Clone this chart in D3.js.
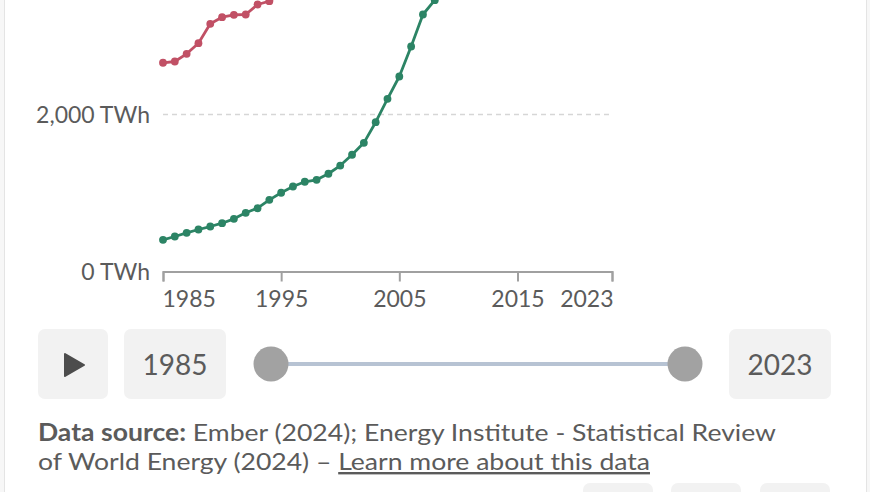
<!DOCTYPE html>
<html>
<head>
<meta charset="utf-8">
<script src="https://cdn.jsdelivr.net/npm/d3@7"></script>
<style>
  html, body { margin: 0; padding: 0; background: #f7f7f7; }
  svg { display: block; font-family: Lato, "Open Sans", sans-serif; }
</style>
</head>
<body>
<svg id="chart" width="870" height="492"></svg>
<script>
// ---- data ----
const years = d3.range(1985, 2024);
const seriesNames = ["United States", "China"];
const usValues = [2659,2675,2773,2908,3155,3240,3270,3274,3401,3443,
                  3545,3663,3720,3853,3883,4000,3826,4016,4050,4125,
                  4268,4275,4323,4310,4119,4326,4289,4207,4247,4297,
                  4273,4257,4226,4405,4328,4216,4347,4441,4326];
const chinaValues = [404,446,493,535,573,615,671,748,806,913,
                     1003,1083,1143,1168,1245,1350,1487,1639,1902,2200,
                     2484,2866,3274,3457,3715,4207,4713,4987,5432,5650,
                     5815,6133,6604,7166,7503,7779,8534,8849,9456];
const yTicks = [0, 2000, 4000, 6000, 8000, 10000];
const xTicks = [1985, 1995, 2005, 2015, 2023];
const startYear = "1985", endYear = "2023";
const sourceLine1Bold = "Data source:";
const sourceLine1 = " Ember (2024); Energy Institute - Statistical Review";
const sourceLine2 = "of World Energy (2024) – ";
const sourceLink = "Learn more about this data";

const series = [
  {name: seriesNames[0], values: usValues, color: "#c15065"},
  {name: seriesNames[1], values: chinaValues, color: "#2c8465"}
];

const svg = d3.select("#chart");
const textColor = "#5b5b5b";

// card
svg.append("rect").attr("x", 4.5).attr("y", -10).attr("width", 862).attr("height", 520)
  .attr("fill", "#fff").attr("stroke", "#e4e4e4").attr("stroke-width", 1);

const x = d3.scaleLinear().domain([1985, 2023]).range([163, 612]);
const y = d3.scaleLinear().domain([0, 10000]).range([271.5, -513.5]);

// grid lines
const g = svg.append("g");
g.selectAll("line.grid").data(yTicks.filter(d => d > 0)).join("line")
  .attr("class", "grid")
  .attr("x1", x.range()[0]).attr("x2", x.range()[1])
  .attr("y1", d => y(d)).attr("y2", d => y(d))
  .attr("stroke", "#d6d6d6").attr("stroke-width", 1.5).attr("stroke-dasharray", "5,4");

// y labels (only those inside the visible frame)
g.selectAll("text.ylab").data(yTicks.filter(d => y(d) > 12)).join("text")
  .attr("class", "ylab")
  .attr("x", 150).attr("y", d => y(d))
  .attr("dy", "0.35em")
  .attr("text-anchor", "end")
  .attr("fill", textColor).attr("font-size", 23)
  .text(d => d3.format(",")(d) + " TWh");

// x axis
const xAxis = d3.axisBottom(x).tickValues(xTicks).tickFormat(d3.format("d")).tickSize(10).tickPadding(9);
const ax = svg.append("g").attr("transform", `translate(0,${y(0)})`).call(xAxis);
ax.select(".domain").attr("stroke", "#a0a0a0").attr("stroke-width", 2);
ax.selectAll(".tick line").attr("stroke", "#a0a0a0").attr("stroke-width", 2);
ax.selectAll(".tick text").attr("fill", textColor).attr("font-size", 23)
  .attr("font-family", "Lato, sans-serif")
  .attr("text-anchor", (d, i) => i === 0 ? "start" : (i === xTicks.length - 1 ? "end" : "middle"))
  .attr("x", (d, i) => i === 0 ? -1 : (i === xTicks.length - 1 ? 1 : 0));

// lines
const line = d3.line().x((d, i) => x(years[i])).y(d => y(d));
series.forEach(s => {
  const sg = svg.append("g");
  sg.append("path").datum(s.values).attr("d", line)
    .attr("fill", "none").attr("stroke", s.color).attr("stroke-width", 2.8)
    .attr("stroke-linejoin", "round");
  sg.selectAll("circle").data(s.values).join("circle")
    .attr("cx", (d, i) => x(years[i])).attr("cy", d => y(d)).attr("r", 3.9)
    .attr("fill", s.color);
});

// timeline controls
const ctrl = svg.append("g");
ctrl.append("rect").attr("x", 38).attr("y", 329).attr("width", 70).attr("height", 70).attr("rx", 7)
  .attr("fill", "#f2f2f2");
ctrl.append("path").attr("d", "M65,354 L84,365 L65,376 Z").attr("fill", "#4d4d4d")
  .attr("stroke", "#4d4d4d").attr("stroke-width", 2).attr("stroke-linejoin", "round");
ctrl.append("rect").attr("x", 124).attr("y", 329).attr("width", 102).attr("height", 70).attr("rx", 7)
  .attr("fill", "#f2f2f2");
ctrl.append("text").attr("x", 175).attr("y", 365).attr("dy", "0.35em").attr("text-anchor", "middle")
  .attr("font-size", 28).attr("fill", textColor).text(startYear);
ctrl.append("rect").attr("x", 729).attr("y", 329).attr("width", 102).attr("height", 70).attr("rx", 7)
  .attr("fill", "#f2f2f2");
ctrl.append("text").attr("x", 780).attr("y", 365).attr("dy", "0.35em").attr("text-anchor", "middle")
  .attr("font-size", 28).attr("fill", textColor).text(endYear);
ctrl.append("line").attr("x1", 285).attr("x2", 670).attr("y1", 364).attr("y2", 364)
  .attr("stroke", "#b7c3d3").attr("stroke-width", 4);
ctrl.append("circle").attr("cx", 271).attr("cy", 364).attr("r", 17.5).attr("fill", "#a2a2a2");
ctrl.append("circle").attr("cx", 685).attr("cy", 364).attr("r", 17.5).attr("fill", "#a2a2a2");

// source text
const t1 = svg.append("text").attr("x", 38).attr("y", 441).attr("font-size", 24).attr("fill", textColor)
  .attr("textLength", 738).attr("lengthAdjust", "spacingAndGlyphs");
t1.append("tspan").attr("font-weight", "bold").text(sourceLine1Bold);
t1.append("tspan").text(sourceLine1);
const t2 = svg.append("text").attr("x", 38).attr("y", 470).attr("font-size", 24).attr("fill", textColor)
  .attr("textLength", 612).attr("lengthAdjust", "spacingAndGlyphs");
t2.append("tspan").text(sourceLine2);
t2.append("tspan").attr("text-decoration", "underline").text(sourceLink);

// bottom buttons (partially visible)
[583, 671, 760].forEach(bx => {
  svg.append("rect").attr("x", bx).attr("y", 483).attr("width", 70).attr("height", 40).attr("rx", 7)
    .attr("fill", "#f2f2f2");
});
</script>
</body>
</html>
